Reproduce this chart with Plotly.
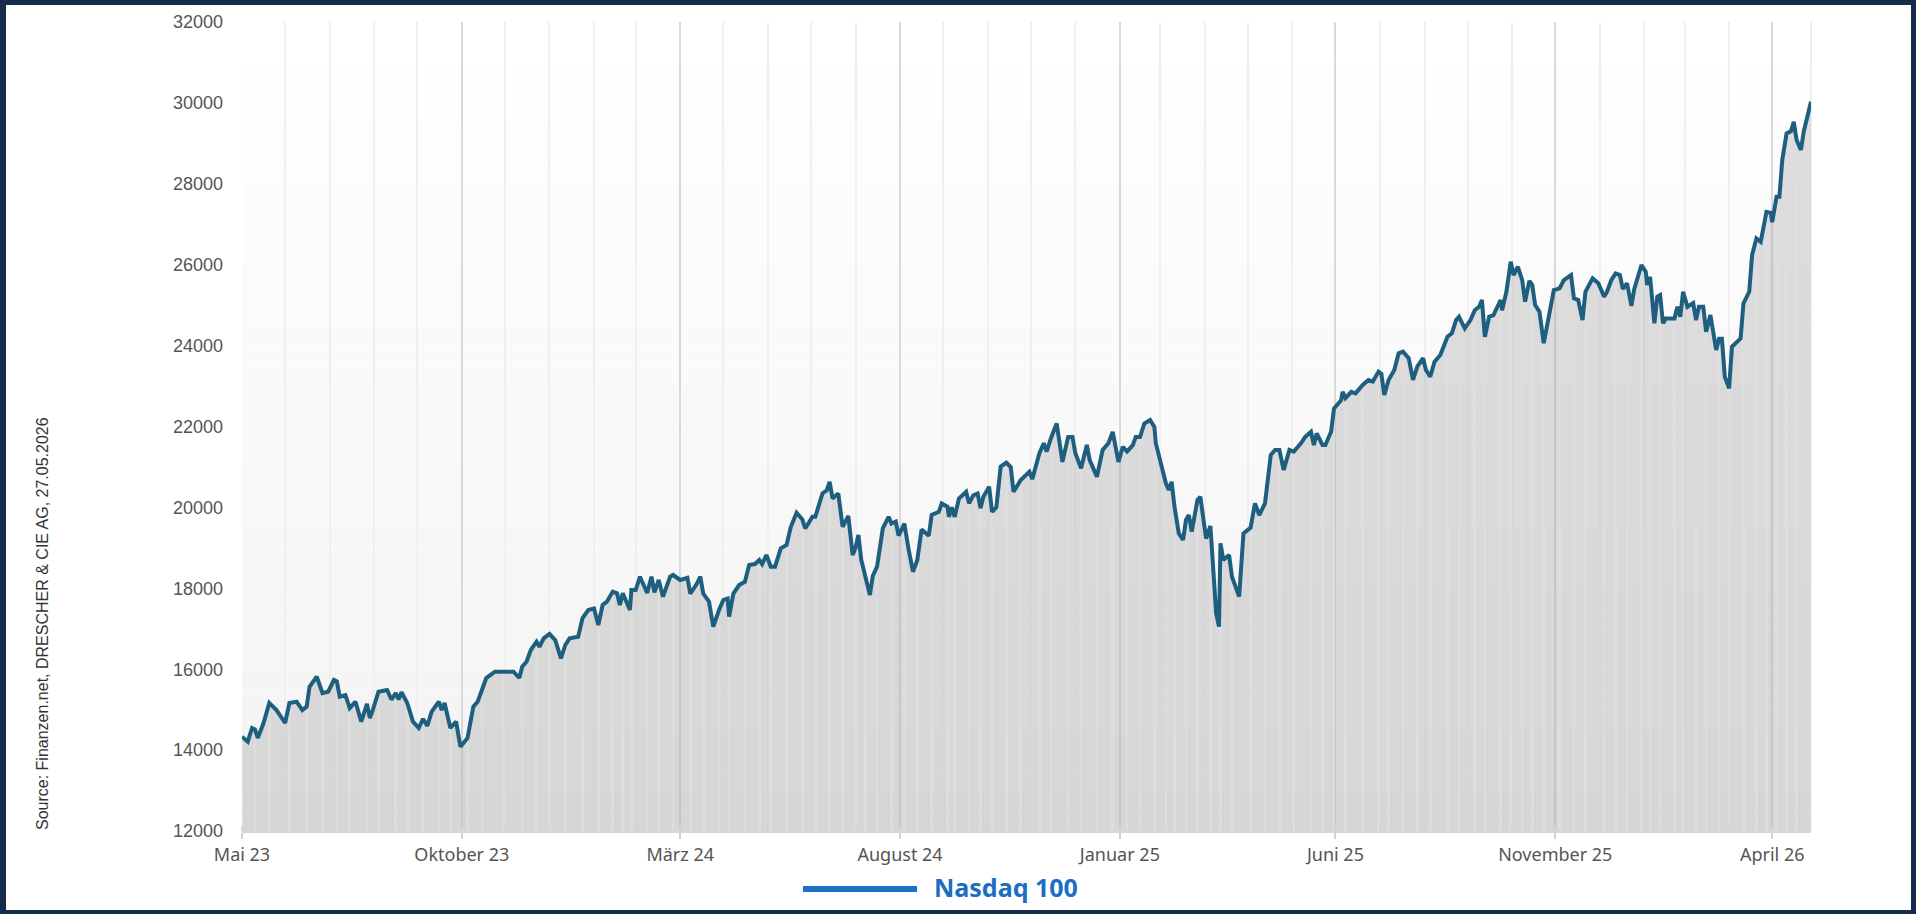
import plotly.graph_objects as go
import pandas as pd

# ---------------- data ----------------
dates = [
"2023-05-31","2023-06-04","2023-06-07","2023-06-09","2023-06-11","2023-06-15","2023-06-19","2023-06-24","2023-06-30",
"2023-07-03","2023-07-08","2023-07-12","2023-07-15","2023-07-17","2023-07-22","2023-07-26","2023-07-30",
"2023-08-03","2023-08-05","2023-08-07","2023-08-11","2023-08-14","2023-08-18","2023-08-22","2023-08-26","2023-08-28","2023-08-30",
"2023-09-03","2023-09-09","2023-09-12","2023-09-15","2023-09-17","2023-09-19","2023-09-23","2023-09-27",
"2023-10-01","2023-10-04","2023-10-07","2023-10-10","2023-10-15","2023-10-17","2023-10-19","2023-10-23","2023-10-27","2023-10-30",
"2023-11-04","2023-11-08","2023-11-11","2023-11-14","2023-11-17","2023-11-23","2023-11-29",
"2023-12-06","2023-12-10","2023-12-12","2023-12-15","2023-12-18","2023-12-22","2023-12-24","2023-12-27","2023-12-31",
"2024-01-04","2024-01-08","2024-01-11","2024-01-14","2024-01-20","2024-01-23","2024-01-27","2024-01-31",
"2024-02-03","2024-02-06","2024-02-09","2024-02-13","2024-02-16","2024-02-18","2024-02-20","2024-02-23","2024-02-25","2024-02-26","2024-02-29",
"2024-03-03","2024-03-08","2024-03-11","2024-03-13","2024-03-16","2024-03-19","2024-03-24","2024-03-26","2024-03-31",
"2024-04-05","2024-04-07","2024-04-11","2024-04-14","2024-04-16","2024-04-20","2024-04-23","2024-04-27","2024-04-30",
"2024-05-03","2024-05-04","2024-05-07","2024-05-11","2024-05-15","2024-05-18","2024-05-22","2024-05-25","2024-05-27","2024-05-30",
"2024-06-02","2024-06-05","2024-06-09","2024-06-13","2024-06-16","2024-06-20","2024-06-24","2024-06-26",
"2024-07-01","2024-07-03","2024-07-08","2024-07-11","2024-07-13","2024-07-15","2024-07-19","2024-07-22","2024-07-26","2024-07-29","2024-07-31",
"2024-08-02","2024-08-04","2024-08-07","2024-08-10","2024-08-12","2024-08-15","2024-08-19","2024-08-23","2024-08-25","2024-08-28","2024-08-30",
"2024-09-03","2024-09-06","2024-09-09","2024-09-12","2024-09-15","2024-09-20","2024-09-22","2024-09-27","2024-09-29",
"2024-10-03","2024-10-04","2024-10-06","2024-10-08","2024-10-11","2024-10-16","2024-10-18","2024-10-21","2024-10-24","2024-10-26","2024-10-28",
"2024-11-01","2024-11-03","2024-11-06","2024-11-09","2024-11-13","2024-11-16","2024-11-18","2024-11-23","2024-11-29",
"2024-12-01","2024-12-06","2024-12-09","2024-12-11","2024-12-14","2024-12-18","2024-12-22","2024-12-26","2024-12-29","2024-12-31",
"2025-01-04","2025-01-08","2025-01-10","2025-01-15","2025-01-19","2025-01-23","2025-01-26","2025-01-30",
"2025-02-02","2025-02-05","2025-02-09","2025-02-11","2025-02-14","2025-02-17","2025-02-21","2025-02-24","2025-02-25",
"2025-03-01","2025-03-04","2025-03-06","2025-03-08","2025-03-10","2025-03-13","2025-03-16","2025-03-18","2025-03-20","2025-03-22","2025-03-26","2025-03-28",
"2025-04-01","2025-04-04","2025-04-08","2025-04-10","2025-04-11","2025-04-13","2025-04-17","2025-04-19","2025-04-24","2025-04-27",
"2025-05-02","2025-05-05","2025-05-08","2025-05-12","2025-05-16","2025-05-19","2025-05-22","2025-05-25","2025-05-29",
"2025-06-01","2025-06-06","2025-06-09","2025-06-13","2025-06-15","2025-06-17","2025-06-21","2025-06-23","2025-06-27","2025-06-29",
"2025-07-04","2025-07-05","2025-07-07","2025-07-11","2025-07-14","2025-07-19","2025-07-23","2025-07-26","2025-07-30",
"2025-08-01","2025-08-03","2025-08-06","2025-08-10","2025-08-13","2025-08-16","2025-08-20","2025-08-23","2025-08-26","2025-08-30",
"2025-09-01","2025-09-04","2025-09-07","2025-09-11","2025-09-16","2025-09-19","2025-09-22","2025-09-24","2025-09-28",
"2025-10-02","2025-10-05","2025-10-08","2025-10-10","2025-10-12","2025-10-15","2025-10-18","2025-10-23","2025-10-24","2025-10-27","2025-10-30",
"2025-11-01","2025-11-04","2025-11-07","2025-11-09","2025-11-12","2025-11-14","2025-11-16","2025-11-19","2025-11-22","2025-11-26","2025-11-29",
"2025-12-03","2025-12-06","2025-12-11","2025-12-13","2025-12-16","2025-12-19","2025-12-21","2025-12-26","2025-12-30",
"2026-01-03","2026-01-05","2026-01-08","2026-01-11","2026-01-14","2026-01-16","2026-01-19","2026-01-22","2026-01-24","2026-01-29",
"2026-02-01","2026-02-02","2026-02-04","2026-02-07","2026-02-09","2026-02-11","2026-02-13","2026-02-15","2026-02-21","2026-02-23","2026-02-25","2026-02-27",
"2026-03-02","2026-03-06","2026-03-08","2026-03-10","2026-03-13","2026-03-15","2026-03-18","2026-03-22","2026-03-24","2026-03-26","2026-03-28","2026-03-31",
"2026-04-02","2026-04-08","2026-04-10","2026-04-14","2026-04-16","2026-04-19","2026-04-22","2026-04-24","2026-04-26","2026-04-29","2026-04-30",
"2026-05-03","2026-05-05","2026-05-07","2026-05-10","2026-05-13","2026-05-15","2026-05-17","2026-05-20","2026-05-22","2026-05-27",
]

values = [
14331,14208,14546,14510,14300,14670,15164,14990,14670,
15164,15196,14990,15073,15567,15814,15411,15444,
15733,15700,15320,15360,15040,15196,14702,15140,14790,14990,
15444,15486,15250,15410,15250,15430,15164,14702,
14546,14770,14600,14950,15196,14990,15164,14546,14702,14085,
14300,15073,15196,15486,15782,15938,15938,
15938,15782,16062,16185,16474,16680,16556,16762,16870,
16720,16268,16598,16762,16803,17266,17464,17500,
17093,17588,17670,17918,17877,17588,17877,17588,17464,17958,17958,
18287,17884,18287,17900,18205,17794,18287,18329,18205,
18260,17870,18080,18287,17870,17670,17052,17464,17711,
17750,17300,17870,18080,18160,18576,18600,18700,18600,18823,
18535,18535,18988,19070,19520,19866,19700,19480,
19767,19767,20343,20425,20632,20220,20343,19520,19787,18823,19000,
19318,18700,18287,17834,18300,18535,19480,19767,19600,19650,19300,
19600,18947,18410,18700,19453,19300,19812,19890,20097,
20014,19767,20000,19767,20220,20385,20100,20300,20343,19980,20260,
20509,19890,20000,21006,21105,21000,20385,20677,20880,
20700,21338,21586,21380,21710,22074,21125,21743,21743,21338,
20967,21543,21170,20757,21420,21586,21868,21125,
21500,21380,21540,21740,21740,22074,22160,21990,21586,
21050,20595,20430,20632,20014,19357,19194,19688,19812,19400,20183,20262,
19231,19540,17379,17052,19110,18700,18823,18287,17794,19357,
19500,20100,19812,20100,21295,21420,21420,20925,21420,
21380,21586,21743,21868,21540,21830,21540,21540,21868,22444,
22650,22856,22700,22856,22818,23026,23150,23110,23356,
23300,22780,23150,23398,23810,23852,23688,23150,23478,23688,
23398,23230,23600,23767,24219,24302,24631,24713,24425,
24630,24876,24960,25127,24219,24713,24755,25127,24876,25330,26072,
25745,25948,25620,25085,25600,25498,25004,24839,24058,24800,25374,
25415,25620,25745,25167,25127,24631,25330,25662,25540,
25208,25330,25620,25786,25745,25400,25540,24979,25400,25992,
25824,25500,25700,24549,25208,25250,24550,24672,24672,24960,24713,25330,
24960,25050,24630,24960,24960,24343,24755,23891,24170,24170,23230,22943,
23972,24178,25045,25330,26240,26650,26565,26935,27306,27280,27050,
27677,27677,28588,29247,29300,29531,29080,28836,29300,30030,
]

series_name = "Nasdaq 100"
source_text = "Source: Finanzen.net, DRESCHER & CIE AG, 27.05.2026"

x_tick_dates = ["2023-05-31", "2023-10-31", "2024-03-31", "2024-08-31",
                "2025-01-31", "2025-06-30", "2025-11-30", "2026-04-30"]
x_tick_labels = ["Mai 23", "Oktober 23", "März 24", "August 24",
                 "Januar 25", "Juni 25", "November 25", "April 26"]
y_tick_values = [12000, 14000, 16000, 18000, 20000, 22000, 24000, 26000, 28000, 30000, 32000]
y_tick_labels = ["12000", "14000", "16000", "18000", "20000", "22000",
                 "24000", "26000", "28000", "30000", "32000"]
x_range = ["2023-05-31", "2026-05-27"]
y_range = [12000, 32000]

# ---------------- layout helpers ----------------
W, H = 1916, 914
L, R, T, B = 242, 105, 22, 83
PW, PH = W - L - R, H - T - B


def px(x):
    return (x - L) / PW


def py(y):
    return (H - B - y) / PH


NAVY = "#172b4d"
LINE = "#1e5f80"

month_ends = [d.strftime("%Y-%m-%d") for d in
              pd.date_range(x_range[0], x_range[1], freq=pd.offsets.MonthEnd())]

fig = go.Figure()

# area fill
fig.add_trace(go.Scatter(
    x=dates, y=values, mode="lines", fill="tozeroy",
    fillcolor="rgba(168,168,168,0.38)", line=dict(width=0, color=LINE),
    hoverinfo="skip", showlegend=False))

# white stripes in the fill
fig.add_trace(go.Bar(
    x=dates[::3], y=values[::3], width=86400000 * 1.8,
    marker=dict(color="rgba(255,255,255,0.9)", line=dict(width=0)),
    hoverinfo="skip", showlegend=False))

# main line
fig.add_trace(go.Scatter(
    x=dates, y=values, mode="lines", name=series_name,
    line=dict(color=LINE, width=4), hoverinfo="skip", showlegend=False))

shapes = []
# vertical background gradient (white at top -> light gray at bottom)
n_bands = 40
for i in range(n_bands):
    y0 = y_range[0] + (y_range[1] - y_range[0]) * i / n_bands
    y1 = y_range[0] + (y_range[1] - y_range[0]) * (i + 1) / n_bands
    c = int(round(243 + (255 - 243) * (i + 0.5) / n_bands))
    shapes.append(dict(type="rect", xref="paper", yref="y", x0=0, x1=1, y0=y0, y1=y1,
                       fillcolor=f"rgb({c},{c},{c})", line=dict(width=0), layer="below"))
# right edge light line
shapes.append(dict(type="line", xref="paper", yref="y", x0=1, x1=1, y0=y_range[0], y1=y_range[1],
                   line=dict(color="#eeeeee", width=2), layer="below"))
# legend line
shapes.append(dict(type="line", xref="paper", yref="paper", x0=px(803), x1=px(917),
                   y0=py(889), y1=py(889), line=dict(color="#1b72c9", width=6)))
# navy frame
for (x0, x1, y0, y1) in [(0, 6, 0, H), (1911, W, 0, H), (0, W, 0, 5), (0, W, 910, H)]:
    shapes.append(dict(type="rect", xref="paper", yref="paper", x0=px(x0), x1=px(x1),
                       y0=py(y1), y1=py(y0), fillcolor=NAVY, line=dict(width=0), layer="above"))

annotations = [
    dict(text=series_name, xref="paper", yref="paper", x=px(932), y=py(887),
         xanchor="left", yanchor="middle", showarrow=False,
         font=dict(family="Noto Sans", size=25, color="#1b6ec2", weight="bold")),
    dict(text=source_text, xref="paper", yref="paper", x=px(42), y=py(624),
         xanchor="center", yanchor="middle", showarrow=False, textangle=-90,
         font=dict(family="Liberation Sans, Arial", size=16, color="#333333")),
]

fig.update_layout(
    width=W, height=H,
    margin=dict(l=L, r=R, t=T, b=B, pad=0),
    paper_bgcolor="white", plot_bgcolor="white",
    showlegend=False, bargap=0,
    shapes=shapes, annotations=annotations,
    xaxis=dict(
        type="date", range=x_range, tickmode="array",
        tickvals=x_tick_dates, ticktext=x_tick_labels,
        showgrid=True, gridcolor="#d9d9d9", gridwidth=2,
        ticks="outside", ticklen=6, tickwidth=2, tickcolor="#d3d3d3",
        showline=True, linecolor="#d6d6d6", linewidth=2, zeroline=False,
        tickfont=dict(family="Noto Sans", size=18, color="#555555"),
        minor=dict(tickmode="array", tickvals=month_ends, showgrid=True,
                   gridcolor="#f0f0f0", gridwidth=2, ticks="inside", ticklen=5,
                   tickwidth=2, tickcolor="#d3d3d3"),
        fixedrange=True,
    ),
    yaxis=dict(
        range=y_range, tickmode="array", tickvals=y_tick_values, ticktext=y_tick_labels,
        showgrid=False, zeroline=False, showline=False, ticks="",
        ticklabelstandoff=18,
        tickfont=dict(family="Liberation Sans, Arial", size=18, color="#555555"),
        fixedrange=True,
    ),
)

fig.write_html("out.html", config={"displayModeBar": False})
